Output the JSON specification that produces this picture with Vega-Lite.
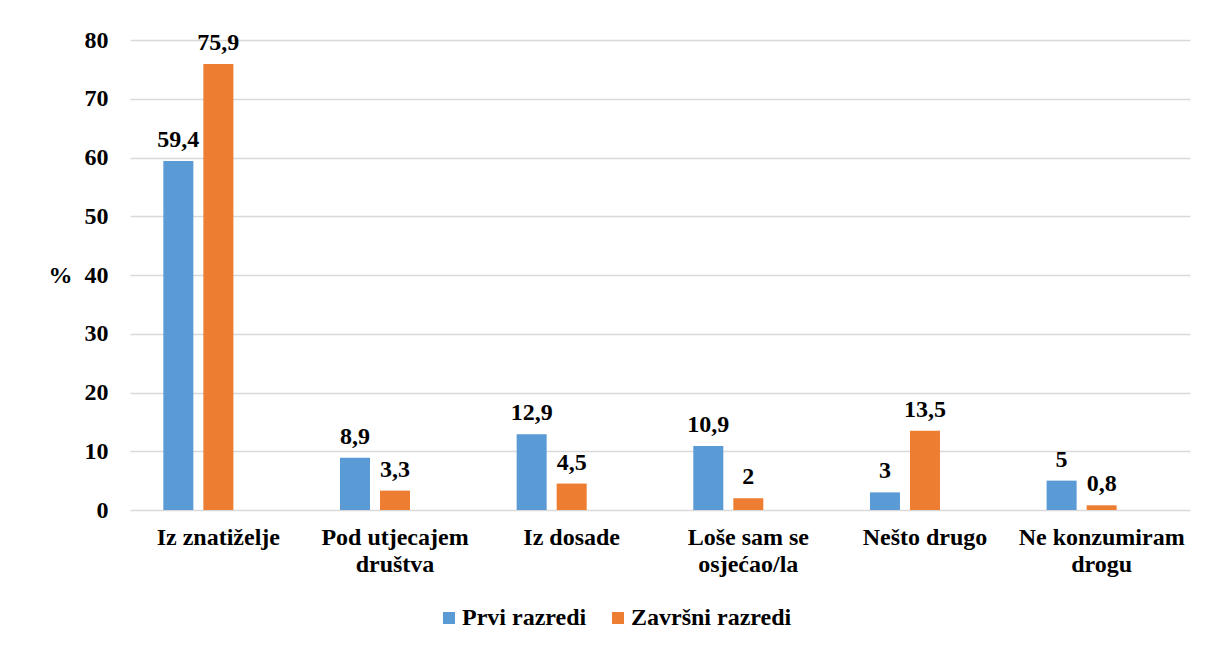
{
  "$schema": "https://vega.github.io/schema/vega-lite/v6.json",
  "width": 1060,
  "height": 470,
  "autosize": {"type": "none"},
  "padding": {"left": 130, "top": 40, "right": 18, "bottom": 138},
  "background": "white",
  "config": {
    "view": {"stroke": null},
    "font": "Liberation Serif"
  },
  "data": {
    "values": [
      {"kategorija": "Iz znatiželje", "skupina": "Prvi razredi", "postotak": 59.4, "oznaka": "59,4"},
      {"kategorija": "Iz znatiželje", "skupina": "Završni razredi", "postotak": 75.9, "oznaka": "75,9"},
      {"kategorija": "Pod utjecajem društva", "skupina": "Prvi razredi", "postotak": 8.9, "oznaka": "8,9"},
      {"kategorija": "Pod utjecajem društva", "skupina": "Završni razredi", "postotak": 3.3, "oznaka": "3,3"},
      {"kategorija": "Iz dosade", "skupina": "Prvi razredi", "postotak": 12.9, "oznaka": "12,9"},
      {"kategorija": "Iz dosade", "skupina": "Završni razredi", "postotak": 4.5, "oznaka": "4,5"},
      {"kategorija": "Loše sam se osjećao/la", "skupina": "Prvi razredi", "postotak": 10.9, "oznaka": "10,9"},
      {"kategorija": "Loše sam se osjećao/la", "skupina": "Završni razredi", "postotak": 2, "oznaka": "2"},
      {"kategorija": "Nešto drugo", "skupina": "Prvi razredi", "postotak": 3, "oznaka": "3"},
      {"kategorija": "Nešto drugo", "skupina": "Završni razredi", "postotak": 13.5, "oznaka": "13,5"},
      {"kategorija": "Ne konzumiram drogu", "skupina": "Prvi razredi", "postotak": 5, "oznaka": "5"},
      {"kategorija": "Ne konzumiram drogu", "skupina": "Završni razredi", "postotak": 0.8, "oznaka": "0,8"}
    ]
  },
  "encoding": {
    "x": {
      "field": "kategorija",
      "type": "nominal",
      "sort": null,
      "scale": {"paddingInner": 0.377, "paddingOuter": 0.1887},
      "axis": {
        "title": null,
        "domain": false,
        "ticks": false,
        "labelAngle": 0,
        "labelPadding": 15,
        "labelFont": "Liberation Serif",
        "labelFontWeight": "bold",
        "labelFontSize": 24,
        "labelColor": "black",
        "labelLineHeight": 27,
        "labelBaseline": "top",
        "labelLimit": 300,
        "labelExpr": "datum.value == 'Pod utjecajem društva' ? ['Pod utjecajem', 'društva'] : datum.value == 'Loše sam se osjećao/la' ? ['Loše sam se', 'osjećao/la'] : datum.value == 'Ne konzumiram drogu' ? ['Ne konzumiram', 'drogu'] : datum.value"
      }
    },
    "xOffset": {
      "field": "skupina",
      "type": "nominal",
      "scale": {"domain": ["Prvi razredi", "Završni razredi", "_"], "paddingInner": 0.25, "paddingOuter": 0}
    },
    "y": {
      "field": "postotak",
      "type": "quantitative",
      "scale": {"domain": [0, 80], "nice": false},
      "axis": {
        "values": [0, 10, 20, 30, 40, 50, 60, 70, 80],
        "domain": false,
        "ticks": false,
        "gridColor": "#d9d9d9",
        "gridWidth": 1.5,
        "labelPadding": 22,
        "labelFont": "Liberation Serif",
        "labelFontWeight": "bold",
        "labelFontSize": 24,
        "labelColor": "black",
        "title": "%",
        "titleAngle": 0,
        "titleX": -70,
        "titleY": 235,
        "titleAlign": "center",
        "titleBaseline": "middle",
        "titleFont": "Liberation Serif",
        "titleFontWeight": "bold",
        "titleFontSize": 24,
        "titleColor": "black"
      }
    }
  },
  "layer": [
    {
      "mark": {"type": "bar"},
      "encoding": {
        "color": {
          "field": "skupina",
          "type": "nominal",
          "scale": {"domain": ["Prvi razredi", "Završni razredi"], "range": ["#5B9BD5", "#ED7D31"]},
          "legend": {
            "title": null,
            "orient": "none",
            "direction": "horizontal",
            "legendX": 307,
            "legendY": 566,
            "symbolType": "square",
            "symbolSize": 144,
            "symbolStrokeWidth": 0,
            "labelFont": "Liberation Serif",
            "labelFontWeight": "bold",
            "labelFontSize": 24,
            "labelColor": "black",
            "labelOffset": 1,
            "labelLimit": 300,
            "columnPadding": 19
          }
        }
      }
    },
    {
      "mark": {
        "type": "text",
        "baseline": "bottom",
        "dy": -9,
        "font": "Liberation Serif",
        "fontWeight": "bold",
        "fontSize": 24,
        "color": "black"
      },
      "encoding": {"text": {"field": "oznaka"}}
    }
  ]
}
